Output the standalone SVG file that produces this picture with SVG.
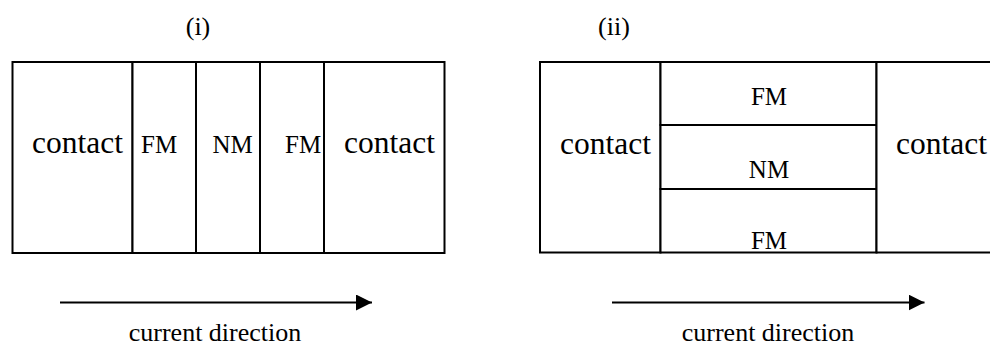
<svg xmlns="http://www.w3.org/2000/svg" width="990" height="347" viewBox="0 0 990 347">
  <style>
    .box { fill: #fff; stroke: #000; stroke-width: 2; }
    .ln { fill: none; stroke: #000; stroke-width: 2; }
    text { font-family: "Liberation Serif", "Times New Roman", serif; fill: #000; }
    .big { font-size: 31.5px; }
    .lbl { font-size: 25px; }
    .cap { font-size: 26px; }
  </style>
  <defs>
    <marker id="head" markerWidth="16" markerHeight="16" refX="16" refY="8" orient="auto" markerUnits="userSpaceOnUse">
      <path d="M0,0 L16,8 L0,16 Z" fill="#000"/>
    </marker>
  </defs>

  <!-- panel titles -->
  <text class="cap" x="198" y="35" text-anchor="middle">(i)</text>
  <text class="cap" x="614" y="35" text-anchor="middle">(ii)</text>

  <!-- (i) layers stacked along the current -->
  <g id="stack-i">
    <g id="i-contact-left">
      <rect class="box" x="12.5" y="62" width="120" height="191"/>
      <text class="big" x="32" y="152.5">contact</text>
    </g>
    <g id="i-fm-1">
      <rect class="box" x="132.5" y="62" width="63.5" height="191"/>
      <text class="lbl" x="141" y="152.5">FM</text>
    </g>
    <g id="i-nm">
      <rect class="box" x="196" y="62" width="64" height="191"/>
      <text class="lbl" x="212.5" y="152.5">NM</text>
    </g>
    <g id="i-fm-2">
      <rect class="box" x="260" y="62" width="64" height="191"/>
      <text class="lbl" x="285" y="152.5">FM</text>
    </g>
    <g id="i-contact-right">
      <rect class="box" x="324" y="62" width="120.5" height="191"/>
      <text class="big" x="344" y="152.5">contact</text>
    </g>
  </g>

  <!-- (ii) layers stacked across the current -->
  <g id="stack-ii">
    <g id="ii-contact-left">
      <rect class="box" x="540" y="62" width="120.5" height="190.5"/>
      <text class="big" x="560" y="153.5">contact</text>
    </g>
    <g id="ii-fm-top">
      <rect class="box" x="660.5" y="62" width="216" height="63"/>
      <text class="lbl" x="769" y="105" text-anchor="middle">FM</text>
    </g>
    <g id="ii-nm">
      <rect class="box" x="660.5" y="125" width="216" height="64"/>
      <text class="lbl" x="769" y="177.5" text-anchor="middle">NM</text>
    </g>
    <g id="ii-fm-bottom">
      <rect class="box" x="660.5" y="189" width="216" height="63.5"/>
      <text class="lbl" x="769" y="249" text-anchor="middle">FM</text>
    </g>
    <g id="ii-contact-right">
      <rect class="box" x="876.5" y="62" width="130" height="190.5"/>
      <text class="big" x="896" y="153.5">contact</text>
    </g>
  </g>

  <!-- current direction arrows -->
  <g id="connectors">
    <line class="ln" x1="60" y1="302.5" x2="372" y2="302.5" marker-end="url(#head)"/>
    <line class="ln" x1="612" y1="302.5" x2="924.5" y2="302.5" marker-end="url(#head)"/>
  </g>
  <text class="cap" x="215" y="341" text-anchor="middle">current direction</text>
  <text class="cap" x="768" y="341" text-anchor="middle">current direction</text>
</svg>
